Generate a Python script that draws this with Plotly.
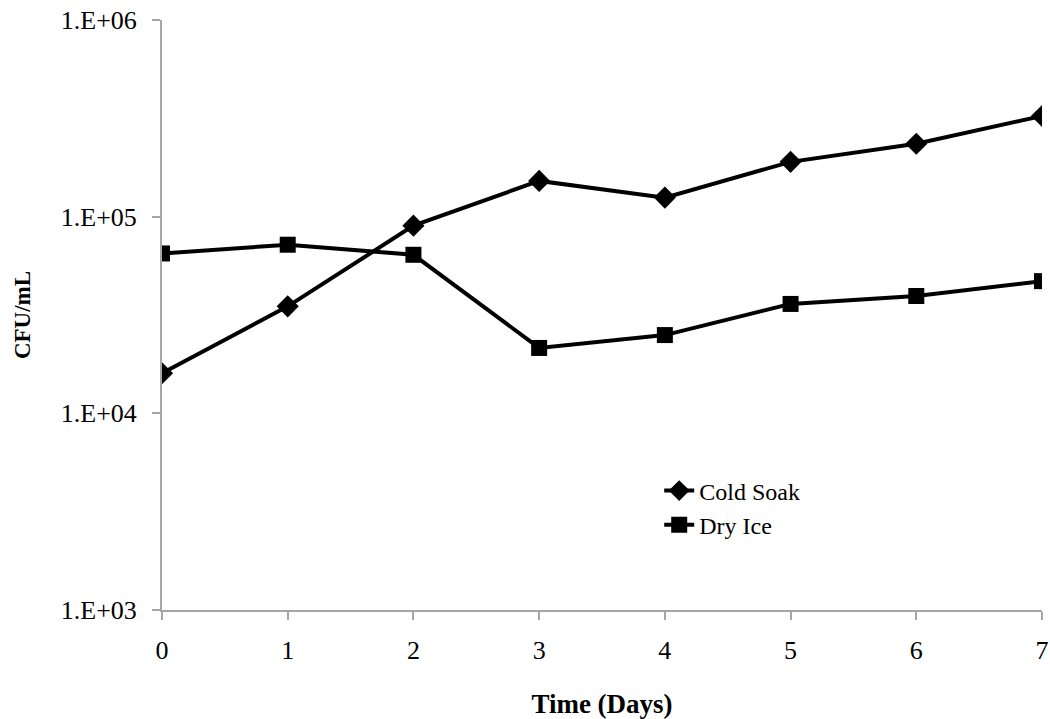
import plotly.graph_objects as go

days = [0, 1, 2, 3, 4, 5, 6, 7]
cold_soak = [1.6e4, 3.5e4, 9.0e4, 1.52e5, 1.25e5, 1.9e5, 2.35e5, 3.25e5]
dry_ice = [6.5e4, 7.2e4, 6.4e4, 2.15e4, 2.5e4, 3.6e4, 3.95e4, 4.7e4]
y_tickvals = [1e3, 1e4, 1e5, 1e6]
y_ticktext = ["1.E+03", "1.E+04", "1.E+05", "1.E+06"]

FONT = "Liberation Serif"

fig = go.Figure()
fig.add_trace(go.Scatter(x=days, y=cold_soak, mode="lines+markers", name="Cold Soak",
                         line=dict(color="black", width=4),
                         marker=dict(symbol="diamond", size=17, color="black")))
fig.add_trace(go.Scatter(x=days, y=dry_ice, mode="lines+markers", name="Dry Ice",
                         line=dict(color="black", width=4),
                         marker=dict(symbol="square", size=16, color="black")))

fig.update_layout(
    width=1050, height=719,
    margin=dict(l=162, r=8, t=20, b=109),
    plot_bgcolor="white", paper_bgcolor="white",
    font=dict(family=FONT, size=26, color="black"),
    showlegend=True,
    legend=dict(x=0.565, y=0.173, xanchor="left", yanchor="middle",
                bgcolor="rgba(0,0,0,0)", font=dict(family=FONT, size=24),
                tracegroupgap=0, itemwidth=30),
)
fig.update_xaxes(range=[0, 7], tickvals=days, showline=True, linecolor="#A6A6A6", linewidth=2,
                 ticks="outside", tickcolor="#A6A6A6", ticklen=8, tickwidth=2,
                 ticklabelstandoff=8, automargin=False,
                 showgrid=False, zeroline=False,
                 title=dict(text="<b>Time (Days)</b>", font=dict(family=FONT, size=27), standoff=30))
fig.update_yaxes(type="log", range=[3, 6], tickvals=y_tickvals, ticktext=y_ticktext,
                 showline=True, linecolor="#A6A6A6", linewidth=2,
                 ticks="outside", tickcolor="#A6A6A6", ticklen=8, tickwidth=2,
                 ticklabelstandoff=10, automargin=False,
                 showgrid=False, zeroline=False,
                 title=dict(text="<b>CFU/mL</b>", font=dict(family=FONT, size=23), standoff=24))

fig.write_html("out.html")
